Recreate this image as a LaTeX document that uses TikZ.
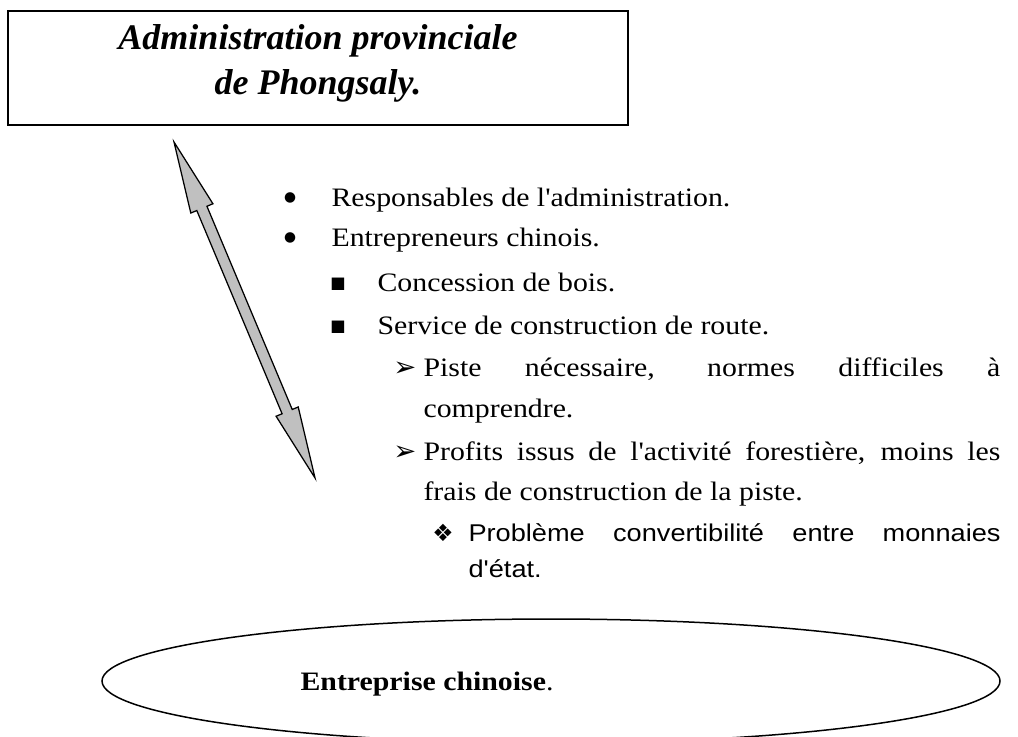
\documentclass[tikz,border=0pt]{standalone}
\usepackage{fontspec}
\setmainfont{Liberation Serif}
\setsansfont{Liberation Sans}
\newfontfamily\dingfont{DejaVu Sans}
\usetikzlibrary{shapes.geometric}
\definecolor{arrowgray}{RGB}{192,192,192}
\newcommand{\sq}{\textquotesingle}
\tikzset{
  titlebox/.style={draw, line width=0.6pt, minimum width=248pt, minimum height=45.6pt, inner sep=0pt},
  titletxt/.style={anchor=base, inner sep=0pt, font=\bfseries\itshape\fontsize{14.4}{17}\selectfont},
  firmshape/.style={draw, ellipse, line width=0.6pt, minimum width=359.2pt, minimum height=49.6pt, inner sep=0pt},
  item/.style={anchor=base west, inner sep=0pt, xscale=1.12, font=\fontsize{10.65}{12}\selectfont},
  itemsf/.style={item, font=\sffamily\fontsize{9.7}{11}\selectfont},
  ding/.style={anchor=base, inner sep=0pt, font=\dingfont\fontsize{6.5}{8}\selectfont},
  arrowbody/.style={draw, line width=0.5pt, fill=arrowgray, line join=miter}
}
\begin{document}
\begin{tikzpicture}[x=0.4pt,y=0.4pt]
 \clip (0,0) rectangle (1018,-736);
 % provincial administration
 \node[titlebox] (admin) at (318,-68) {};
 \node[titletxt] (title1) at (318,-49) {Administration provinciale};
 \node[titletxt] (title2) at (318,-94) {de Phongsaly.};
 % two-way arrow
 \coordinate (tipA) at (174,-142);
 \begin{scope}[shift={(tipA)}, rotate=-67.23]
  \draw[arrowbody] (0,0) -- (72,12) -- (72,5.5) -- (292.4,5.5) -- (292.4,12) -- (364.4,0)
    -- (292.4,-12) -- (292.4,-5.5) -- (72,-5.5) -- (72,-12) -- cycle;
 \end{scope}
 % list
 \node[ding, font=\dingfont\fontsize{5.5}{7}\selectfont] (d1) at (290,-201) {●};
 \node[item] (resp) at (331,-206) {Responsables de l\sq administration.};
 \node[ding, font=\dingfont\fontsize{5.5}{7}\selectfont] (d2) at (290,-241) {●};
 \node[item] (entr) at (331,-246) {Entrepreneurs chinois.};
 \node[ding] (s1) at (338,-288) {■};
 \node[item] (conc) at (377,-291) {Concession de bois.};
 \node[ding] (s2) at (338,-331) {■};
 \node[item] (serv) at (377,-334) {Service de construction de route.};
 \node[ding, font=\dingfont\fontsize{11}{12}\selectfont] (a1) at (405,-376) {➢};
 \node[item] (piste1) at (423,-376) {\hbox to 206pt{Piste nécessaire, normes difficiles à}};
 \node[item] (piste2) at (423,-417) {comprendre.};
 \node[ding, font=\dingfont\fontsize{11}{12}\selectfont] (a2) at (405,-460) {➢};
 \node[item] (profit1) at (423,-460) {\hbox to 206pt{Profits issus de l\sq activité forestière, moins les}};
 \node[item] (profit2) at (423,-500) {frais de construction de la piste.};
 \node[ding, font=\dingfont\fontsize{9.5}{10}\selectfont] (c1) at (443,-541) {❖};
 \node[itemsf] (conv1) at (468,-541) {\hbox to 190pt{Problème convertibilité entre monnaies}};
 \node[itemsf] (conv2) at (468,-577) {d\sq état.};
 % chinese firm
 \node[firmshape] (firm) at (551,-681) {};
 \node[item] (firmtxt) at (300,-690) {\textbf{Entreprise chinoise}.};
\end{tikzpicture}
\end{document}
